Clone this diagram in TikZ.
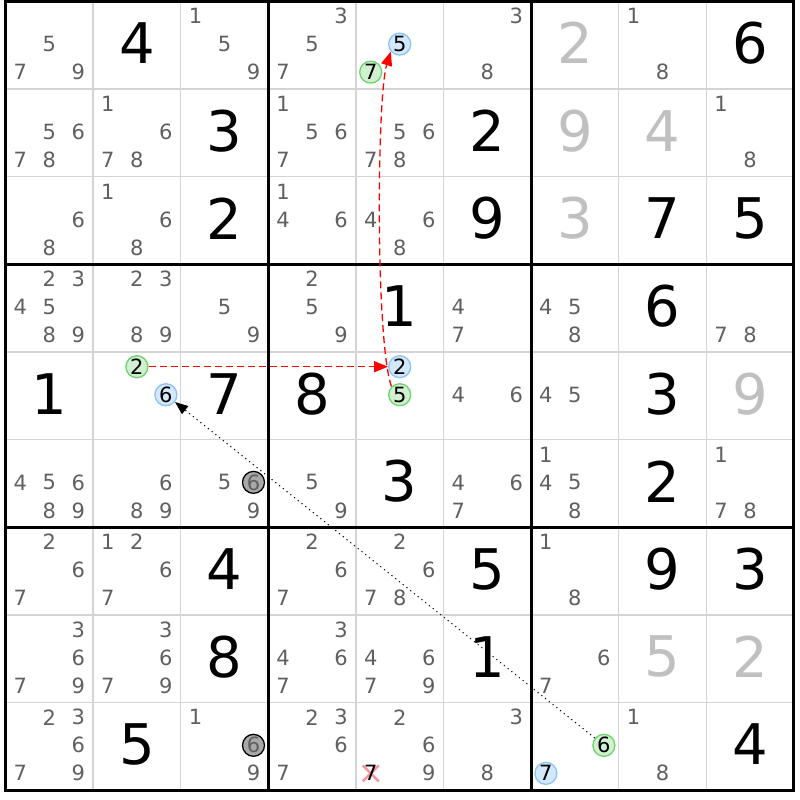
\documentclass[tikz,border=0pt]{standalone}
\usepackage{fontspec}
\setmainfont{DejaVu Sans}
\usetikzlibrary{arrows.meta}
\definecolor{candc}{RGB}{96,96,96}
\definecolor{fadec}{RGB}{192,192,192}
\definecolor{thinc}{RGB}{212,212,212}
\definecolor{bluefill}{RGB}{212,232,252}
\definecolor{blueedge}{RGB}{140,195,245}
\definecolor{greenfill}{RGB}{208,240,208}
\definecolor{greenedge}{RGB}{110,210,110}
\definecolor{grayfill}{RGB}{168,168,168}
\definecolor{xred}{RGB}{244,150,160}
\newcommand\candpos[3]{%
  \pgfmathsetmacro\px{5.5+87.6*(#2-0.5)+29*(mod(#3-1,3)-1)}%
  \pgfmathsetmacro\py{1.3+87.65*(#1-0.5)+28*floor((#3-1)/3)-29}}
\newcommand\cellcands[3]{%
  \foreach \d in {#3}{\candpos{#1}{#2}{\d}\node[cand] (n#1#2\d) at (\px,\py) {\d};}}
\newcommand\hlcand[4]{%
  \candpos{#1}{#2}{#3}\node[#4] (n#1#2#3) at (\px,\py) {#3};}
\newcommand\givenat[4]{%
  \pgfmathsetmacro\px{5.5+87.6*(#2-0.5)}%
  \pgfmathsetmacro\py{1.3+87.65*(#1-0.5)-2}%
  \node[#4] (g#1#2) at (\px,\py) {#3};}
\begin{document}
\begin{tikzpicture}[x=1pt,y=-1pt,
  cand/.style={text=candc,font=\fontsize{21}{21}\selectfont,inner sep=0pt},
  given/.style={text=black,font=\fontsize{56}{56}\selectfont,inner sep=0pt},
  faded/.style={given,text=fadec},
  hlbase/.style={circle,line width=1.3pt,minimum size=22pt,inner sep=0pt,
    font=\fontsize{21}{21}\selectfont,text=black},
  hlblue/.style={hlbase,draw=blueedge,fill=bluefill},
  hlgreen/.style={hlbase,draw=greenedge,fill=greenfill},
  hlgray/.style={hlbase,draw=black,fill=grayfill,text=candc},
  struck/.style={cand,text=black},
  thinline/.style={draw=thinc,line width=1.5pt},
  thickline/.style={draw=black,line width=3pt},
  redarrow/.style={draw=red,line width=1.3pt,dash pattern=on 7pt off 4pt,
    -{Triangle[length=14pt,width=11pt]}},
  dotarrow/.style={draw=black,line width=1pt,dash pattern=on 1.2pt off 3.6pt,
    -{Triangle[length=13pt,width=10pt]}},
  xmark/.style={draw=xred,line width=2.5pt}
]
\useasboundingbox (0,0) rectangle (800,800);
\fill[white] (0,0) rectangle (800,800);
% grid
\foreach \i in {1,2,4,5,7,8}{
  \draw[thinline] ({5.5+87.6*\i},1.3) -- ({5.5+87.6*\i},790.15);
  \draw[thinline] (5.5,{1.3+87.65*\i}) -- (793.9,{1.3+87.65*\i});
}
\foreach \i in {3,6}{
  \draw[thickline] ({5.5+87.6*\i},1.3) -- ({5.5+87.6*\i},790.15);
  \draw[thickline] (5.5,{1.3+87.65*\i}) -- (793.9,{1.3+87.65*\i});
}
\draw[thickline] (5.5,1.3) rectangle (793.9,790.15);
% row 1
\cellcands{1}{1}{5,7,9}
\givenat{1}{2}{4}{given}
\cellcands{1}{3}{1,5,9}
\cellcands{1}{4}{3,5,7}
\hlcand{1}{5}{5}{hlblue}
\hlcand{1}{5}{7}{hlgreen}
\cellcands{1}{6}{3,8}
\givenat{1}{7}{2}{faded}
\cellcands{1}{8}{1,8}
\givenat{1}{9}{6}{given}
% row 2
\cellcands{2}{1}{5,6,7,8}
\cellcands{2}{2}{1,6,7,8}
\givenat{2}{3}{3}{given}
\cellcands{2}{4}{1,5,6,7}
\cellcands{2}{5}{5,6,7,8}
\givenat{2}{6}{2}{given}
\givenat{2}{7}{9}{faded}
\givenat{2}{8}{4}{faded}
\cellcands{2}{9}{1,8}
% row 3
\cellcands{3}{1}{6,8}
\cellcands{3}{2}{1,6,8}
\givenat{3}{3}{2}{given}
\cellcands{3}{4}{1,4,6}
\cellcands{3}{5}{4,6,8}
\givenat{3}{6}{9}{given}
\givenat{3}{7}{3}{faded}
\givenat{3}{8}{7}{given}
\givenat{3}{9}{5}{given}
% row 4
\cellcands{4}{1}{2,3,4,5,8,9}
\cellcands{4}{2}{2,3,8,9}
\cellcands{4}{3}{5,9}
\cellcands{4}{4}{2,5,9}
\givenat{4}{5}{1}{given}
\cellcands{4}{6}{4,7}
\cellcands{4}{7}{4,5,8}
\givenat{4}{8}{6}{given}
\cellcands{4}{9}{7,8}
% row 5
\givenat{5}{1}{1}{given}
\hlcand{5}{2}{2}{hlgreen}
\hlcand{5}{2}{6}{hlblue}
\givenat{5}{3}{7}{given}
\givenat{5}{4}{8}{given}
\hlcand{5}{5}{2}{hlblue}
\hlcand{5}{5}{5}{hlgreen}
\cellcands{5}{6}{4,6}
\cellcands{5}{7}{4,5}
\givenat{5}{8}{3}{given}
\givenat{5}{9}{9}{faded}
% row 6
\cellcands{6}{1}{4,5,6,8,9}
\cellcands{6}{2}{6,8,9}
\cellcands{6}{3}{5,9}
\hlcand{6}{3}{6}{hlgray}
\cellcands{6}{4}{5,9}
\givenat{6}{5}{3}{given}
\cellcands{6}{6}{4,6,7}
\cellcands{6}{7}{1,4,5,8}
\givenat{6}{8}{2}{given}
\cellcands{6}{9}{1,7,8}
% row 7
\cellcands{7}{1}{2,6,7}
\cellcands{7}{2}{1,2,6,7}
\givenat{7}{3}{4}{given}
\cellcands{7}{4}{2,6,7}
\cellcands{7}{5}{2,6,7,8}
\givenat{7}{6}{5}{given}
\cellcands{7}{7}{1,8}
\givenat{7}{8}{9}{given}
\givenat{7}{9}{3}{given}
% row 8
\cellcands{8}{1}{3,6,7,9}
\cellcands{8}{2}{3,6,7,9}
\givenat{8}{3}{8}{given}
\cellcands{8}{4}{3,4,6,7}
\cellcands{8}{5}{4,6,7,9}
\givenat{8}{6}{1}{given}
\cellcands{8}{7}{6,7}
\givenat{8}{8}{5}{faded}
\givenat{8}{9}{2}{faded}
% row 9
\cellcands{9}{1}{2,3,6,7,9}
\givenat{9}{2}{5}{given}
\cellcands{9}{3}{1,9}
\hlcand{9}{3}{6}{hlgray}
\cellcands{9}{4}{2,3,6,7}
\cellcands{9}{5}{2,6,9}
\candpos{9}{5}{7}
\coordinate (xc) at (\px,\py);
\draw[xmark] ([shift={(-8,-8)}]xc) -- ([shift={(8,8)}]xc);
\draw[xmark] ([shift={(-8,8)}]xc) -- ([shift={(8,-8)}]xc);
\node[struck] (n957) at (xc) {7};
\cellcands{9}{6}{3,8}
\hlcand{9}{7}{6}{hlgreen}
\hlcand{9}{7}{7}{hlblue}
\cellcands{9}{8}{1,8}
\givenat{9}{9}{4}{given}
% chain
\draw[redarrow] (n522) -- (n552);
\draw[redarrow] (n555.135) .. controls +(-16,-45) and +(-14,45) .. (n155.220);
\draw[dotarrow] (n976) -- (n526);
\end{tikzpicture}
\end{document}
